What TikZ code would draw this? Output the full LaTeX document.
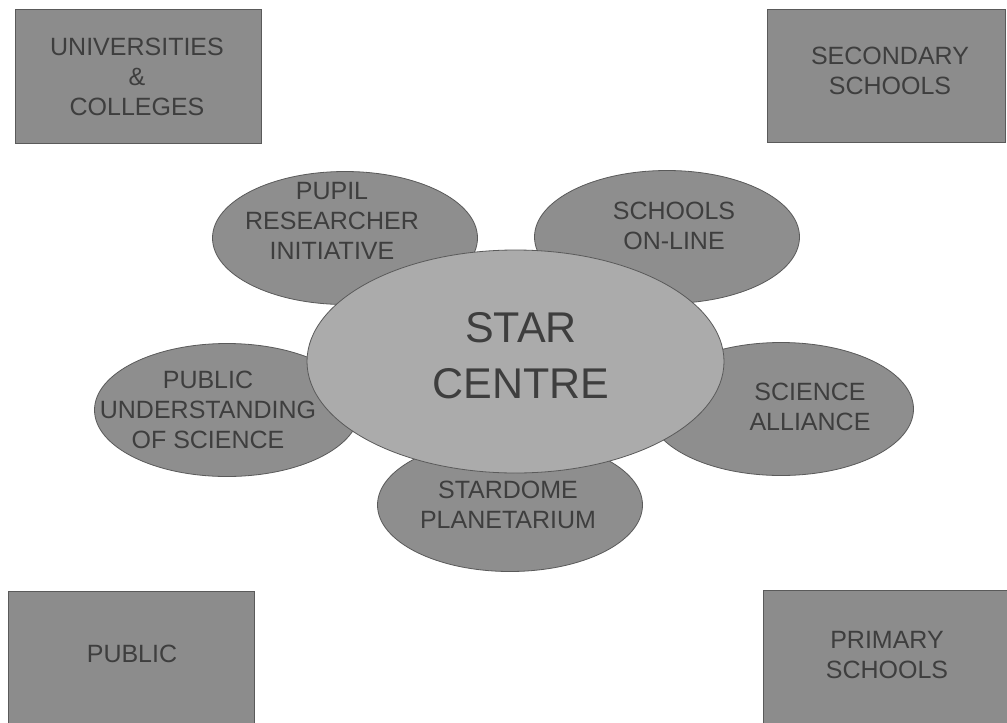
\documentclass[tikz,border=0pt]{standalone}
\usepackage{fontspec}
\setmainfont{Liberation Sans}
\usetikzlibrary{shapes.geometric}
\definecolor{boxfill}{HTML}{8C8C8C}
\definecolor{ovalfill}{HTML}{8E8E8E}
\definecolor{starfill}{HTML}{ABABAB}
\definecolor{edgecol}{HTML}{5A5A5A}
\definecolor{txtcol}{HTML}{3E3E3E}
\tikzset{
  partnerbox/.style={draw=edgecol, line width=0.8pt, fill=boxfill},
  oval/.style={ellipse, draw=edgecol, line width=0.8pt, fill=ovalfill, inner sep=0pt,
    minimum width=265pt, minimum height=133pt},
  staroval/.style={ellipse, draw=edgecol, line width=0.8pt, fill=starfill, inner sep=0pt,
    minimum width=417pt, minimum height=223pt},
  lbl/.style={text=txtcol, align=center, inner sep=0pt, font=\fontsize{25}{30}\selectfont},
  biglbl/.style={text=txtcol, align=center, inner sep=0pt, font=\fontsize{43}{56}\selectfont}
}
\begin{document}
\begin{tikzpicture}[x=1pt,y=-1pt]
\useasboundingbox (0,0) rectangle (1007,723);
\clip (0,0) rectangle (1007,723);
\fill[white] (0,0) rectangle (1007,723);
% corner boxes
\draw[partnerbox] (15,9) rectangle (261,143);
\draw[partnerbox] (767,9) rectangle (1005,142);
\draw[partnerbox] (8,591) rectangle (254,730);
\draw[partnerbox] (763,590) rectangle (1010,730);
\node[lbl] (uni) at (137,77) {UNIVERSITIES\\\&\\COLLEGES};
\node[lbl] (sec) at (890,71) {SECONDARY\\SCHOOLS};
\node[lbl] (pub) at (132,654) {PUBLIC};
\node[lbl] (pri) at (887,655) {PRIMARY\\SCHOOLS};
% satellite ovals
\node[oval] (pri-oval) at (345,238) {};
\node[oval] (sol-oval) at (667,237) {};
\node[oval] (pus-oval) at (227,410) {};
\node[oval] (sa-oval) at (781,409) {};
\node[oval] (sd-oval) at (510,505) {};
\node[lbl] (prit) at (332,221) {PUPIL\\RESEARCHER\\INITIATIVE};
\node[lbl] (solt) at (674,226) {SCHOOLS\\ON-LINE};
\node[lbl] (pust) at (208,410) {PUBLIC\\UNDERSTANDING\\OF SCIENCE};
\node[lbl] (sat) at (810,407) {SCIENCE\\ALLIANCE};
% centre
\node[staroval] (star) at (515.5,361.5) {};
\node[lbl] (sdt) at (508,505) {STARDOME\\PLANETARIUM};
\node[biglbl] (start) at (521,356) {STAR\\CENTRE};
\end{tikzpicture}
\end{document}
